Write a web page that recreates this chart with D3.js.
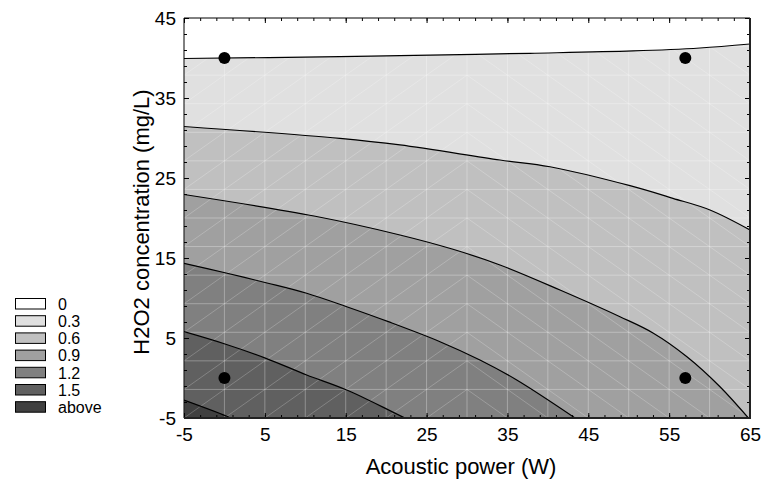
<!DOCTYPE html>
<html>
<head>
<meta charset="utf-8">
<script src="https://cdn.jsdelivr.net/npm/d3@7"></script>
<style>
  html, body { margin: 0; padding: 0; background: #fff; }
  svg { display: block; font-family: "Liberation Sans", Arial, sans-serif; }
</style>
</head>
<body>
<svg id="chart" width="763" height="481"></svg>
<script>
// Axis ticks and legend
const xTicks = [-5, 5, 15, 25, 35, 45, 55, 65];
const yTicks = [-5, 5, 15, 25, 35, 45];
const legendLabels = ["0", "0.3", "0.6", "0.9", "1.2", "1.5", "above"];
const levels = [0, 0.3, 0.6, 0.9, 1.2, 1.5];

// Isolines of the response surface, [acoustic power W, H2O2 mg/L]
const iso000 = [[-5, 39.94], [14.29, 40.16], [21.71, 40.29], [37.79, 40.59], [50.53, 40.88], [58.81, 41.25], [65, 41.75]];
const iso030 = [[-5, 31.44], [14.29, 29.96], [21.71, 29.13], [34.08, 27.25], [40.26, 26.41], [50.16, 24.04], [55.47, 22.46], [60.05, 21.0], [65, 18.5]];
const iso060 = [[-5, 22.94], [11.08, 20.25], [21.71, 17.88], [28.27, 16.09], [34.08, 14.13], [41.5, 11.0], [48.92, 7.66], [53.0, 5.63], [57.2, 2.66], [61.29, -1.09], [64.8, -5]];
const iso090 = [[-5, 14.34], [0.07, 13.16], [5.14, 11.91], [10.17, 10.59], [15.12, 8.91], [20.27, 7.04], [26.66, 4.54], [31.6, 2.25], [36.15, -0.25], [43.36, -5]];
const iso120 = [[-5, 5.79], [0.07, 4.25], [5.14, 2.46], [10.17, 0.38], [15.12, -1.5], [22.3, -5]];
const iso150 = [[-5, -2.75], [0.44, -4.84], [0.7, -5]];
const isolines = [iso000, iso030, iso060, iso090, iso120, iso150];

// Experimental design points
const designX = [0, 57, 0, 57];
const designY = [40, 40, 0, 0];

// Fill shades: region below the first level, then each band above a level
const shades = ["#ffffff", "#e0e0e0", "#c0c0c0", "#a0a0a0", "#808080", "#606060", "#404040"];

const svg = d3.select("#chart");
const xDom = [-5, 65], yDom = [-5, 45];
const x = d3.scaleLinear().domain(xDom).range([184, 750]);
const y = d3.scaleLinear().domain(yDom).range([418, 18]);

svg.append("defs").append("clipPath").attr("id", "plotClip")
  .append("rect")
  .attr("x", x(xDom[0])).attr("y", y(yDom[1]))
  .attr("width", x(xDom[1]) - x(xDom[0]))
  .attr("height", y(yDom[0]) - y(yDom[1]));

const plot = svg.append("g").attr("clip-path", "url(#plotClip)");

// background (lowest band)
plot.append("rect")
  .attr("x", x(xDom[0])).attr("y", y(yDom[1]))
  .attr("width", x(xDom[1]) - x(xDom[0]))
  .attr("height", y(yDom[0]) - y(yDom[1]))
  .attr("fill", shades[0]);

const lineGen = d3.line().x(d => x(d[0])).y(d => y(d[1])).curve(d3.curveCatmullRom.alpha(0.5));

// Region on the high side of an isoline: close it through the bottom-left corner
function bandPath(pts) {
  const end = pts[pts.length - 1];
  const corners = [];
  if (end[0] >= xDom[1] && end[1] > yDom[0]) corners.push([xDom[1], yDom[0]]);
  corners.push([xDom[0], yDom[0]]);
  return lineGen(pts) + corners.map(c => `L${x(c[0])},${y(c[1])}`).join("") + "Z";
}

isolines.forEach((pts, i) => {
  plot.append("path")
    .attr("d", bandPath(pts))
    .attr("fill", shades[i + 1])
    .attr("stroke", "none");
});

// Surface mesh: grid cells with a diagonal in each cell
const meshCols = 14, meshRows = 14;
const mx = d3.range(meshCols + 1).map(i => xDom[0] + i * (xDom[1] - xDom[0]) / meshCols);
const my = d3.range(meshRows + 1).map(j => yDom[0] + j * (yDom[1] - yDom[0]) / meshRows);
const mesh = plot.append("g").attr("stroke", "#ffffff").attr("fill", "none");
mx.forEach(v => mesh.append("line")
  .attr("x1", x(v)).attr("x2", x(v)).attr("y1", y(yDom[0])).attr("y2", y(yDom[1]))
  .attr("stroke-opacity", 0.3));
my.forEach(v => mesh.append("line")
  .attr("x1", x(xDom[0])).attr("x2", x(xDom[1])).attr("y1", y(v)).attr("y2", y(v))
  .attr("stroke-opacity", 0.3));
for (let i = 0; i < meshCols; i++) {
  for (let j = 0; j < meshRows; j++) {
    const x0 = mx[i], x1 = mx[i + 1], y0 = my[j], y1 = my[j + 1];
    const rising = x0 < 30;
    mesh.append("line")
      .attr("x1", x(x0)).attr("x2", x(x1))
      .attr("y1", y(rising ? y0 : y1)).attr("y2", y(rising ? y1 : y0))
      .attr("stroke-opacity", 0.22);
  }
}

// isolines
isolines.forEach(pts => {
  plot.append("path")
    .attr("d", lineGen(pts))
    .attr("fill", "none")
    .attr("stroke", "#000")
    .attr("stroke-width", 1.2);
});

// design points
plot.selectAll("circle.pt").data(designX.map((d, i) => [d, designY[i]]))
  .join("circle").attr("class", "pt")
  .attr("cx", d => x(d[0])).attr("cy", d => y(d[1]))
  .attr("r", 6).attr("fill", "#000");

// Axes: inward ticks on all four sides
const minorX = d3.range(xDom[0], xDom[1] + 0.001, 2);
const minorY = d3.range(yDom[0], yDom[1] + 0.001, 2);
const tickFont = "19px";
const plain = d => String(d);

function styleAxis(g) {
  g.select(".domain").remove();
  g.selectAll(".tick line").attr("stroke", "#000");
  g.selectAll("text").attr("font-size", tickFont).attr("fill", "#000")
    .attr("font-family", '"Liberation Sans", Arial, sans-serif');
}

// bottom
svg.append("g").attr("transform", `translate(0,${y(yDom[0])})`)
  .call(d3.axisBottom(x).tickValues(minorX).tickSize(-3).tickFormat("")).call(styleAxis);
svg.append("g").attr("transform", `translate(0,${y(yDom[0])})`)
  .call(d3.axisBottom(x).tickValues(xTicks).tickSize(-5).tickPadding(10).tickFormat(plain))
  .call(styleAxis);
// top
svg.append("g").attr("transform", `translate(0,${y(yDom[1])})`)
  .call(d3.axisTop(x).tickValues(minorX).tickSize(-3).tickFormat("")).call(styleAxis);
svg.append("g").attr("transform", `translate(0,${y(yDom[1])})`)
  .call(d3.axisTop(x).tickValues(xTicks).tickSize(-5).tickFormat("")).call(styleAxis);
// left
svg.append("g").attr("transform", `translate(${x(xDom[0])},0)`)
  .call(d3.axisLeft(y).tickValues(minorY).tickSize(-3).tickFormat("")).call(styleAxis);
svg.append("g").attr("transform", `translate(${x(xDom[0])},0)`)
  .call(d3.axisLeft(y).tickValues(yTicks).tickSize(-5).tickPadding(8).tickFormat(plain))
  .call(styleAxis);
// right
svg.append("g").attr("transform", `translate(${x(xDom[1])},0)`)
  .call(d3.axisRight(y).tickValues(minorY).tickSize(-3).tickFormat("")).call(styleAxis);
svg.append("g").attr("transform", `translate(${x(xDom[1])},0)`)
  .call(d3.axisRight(y).tickValues(yTicks).tickSize(-5).tickFormat("")).call(styleAxis);

// frame
const fx0 = x(xDom[0]), fx1 = x(xDom[1]), fy0 = y(yDom[1]), fy1 = y(yDom[0]);
svg.append("path").attr("d", `M${fx0},${fy1}V${fy0}H${fx1}`)
  .attr("fill", "none").attr("stroke", "#000").attr("stroke-width", 1);
svg.append("path").attr("d", `M${fx1},${fy0}V${fy1}H${fx0}`)
  .attr("fill", "none").attr("stroke", "#222").attr("stroke-width", 2);

// axis titles
svg.append("text")
  .attr("x", (fx0 + fx1) / 2 - 6).attr("y", 474)
  .attr("text-anchor", "middle").attr("font-size", "22px").attr("fill", "#000")
  .text("Acoustic power (W)");
svg.append("text")
  .attr("transform", `translate(149,${(fy0 + fy1) / 2 + 4}) rotate(-90)`)
  .attr("text-anchor", "middle").attr("font-size", "22px").attr("fill", "#000")
  .text("H2O2 concentration (mg/L)");

// legend
const legend = svg.append("g");
legendLabels.forEach((lab, i) => {
  const top = 298 + i * 17.2;
  legend.append("rect")
    .attr("x", 15.5).attr("y", top + 0.5).attr("width", 30).attr("height", 10.5)
    .attr("fill", shades[i]).attr("stroke", "#000").attr("stroke-width", 1);
  legend.append("text")
    .attr("x", 58).attr("y", top + 6).attr("dy", "0.36em")
    .attr("font-size", "16px").attr("fill", "#000")
    .text(lab);
});
</script>
</body>
</html>
